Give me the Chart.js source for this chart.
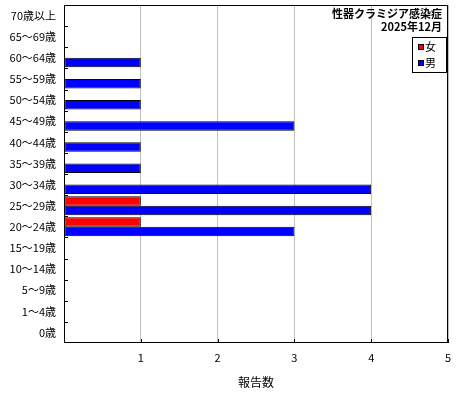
<!DOCTYPE html>
<html>
<head>
<meta charset="utf-8">
<script src="https://cdn.jsdelivr.net/npm/chart.js@4"></script>
<style>
  html, body { margin: 0; padding: 0; background: #fff; }
  #wrap { width: 460px; height: 400px; }
</style>
</head>
<body>
<div id="wrap"><canvas id="chart" width="460" height="400"></canvas></div>
<script>
// age groups, top to bottom
const ageGroups = ['70歳以上', '65～69歳', '60～64歳', '55～59歳', '50～54歳', '45～49歳',
    '40～44歳', '35～39歳', '30～34歳', '25～29歳', '20～24歳', '15～19歳',
    '10～14歳', '5～9歳', '1～4歳', '0歳'];
const female = [0, 0, 0, 0, 0, 0, 0, 0, 0, 1, 1, 0, 0, 0, 0, 0];
const male   = [0, 0, 1, 1, 1, 3, 1, 1, 4, 4, 3, 0, 0, 0, 0, 0];
const xTicks = [1, 2, 3, 4, 5];
const titleLines = ['性器クラミジア感染症', '2025年12月'];
const xTitle = '報告数';

const FONT = '"Noto Sans CJK JP", "DejaVu Sans", sans-serif';

// frame, inside ticks, title and legend box
const decorations = {
    id: 'decorations',
    afterDraw(chart) {
        const ctx = chart.ctx;
        const a = chart.chartArea;
        const x = chart.scales.x;
        ctx.save();
        ctx.strokeStyle = '#000';
        ctx.lineWidth = 1;
        ctx.strokeRect(a.left + 0.5, a.top + 0.5, a.right - a.left - 1, a.bottom - a.top - 1);

        // small ticks on the left edge, at category boundaries
        const band = (a.bottom - a.top) / ageGroups.length;
        ctx.beginPath();
        for (let i = 1; i < ageGroups.length; i++) {
            const py = Math.round(a.top + band * i) + 0.5;
            ctx.moveTo(a.left, py);
            ctx.lineTo(a.left + 4, py);
        }
        xTicks.forEach(v => {
            const px = Math.round(x.getPixelForValue(v)) + 0.5;
            ctx.moveTo(px, a.bottom);
            ctx.lineTo(px, a.bottom - 4);
        });
        ctx.stroke();

        // title
        ctx.fillStyle = '#000';
        ctx.font = 'bold 11px ' + FONT;
        ctx.textAlign = 'right';
        ctx.textBaseline = 'middle';
        ctx.fillText(titleLines[0], a.right - 6, 14);
        ctx.fillText(titleLines[1], a.right - 6, 27);

        // legend
        const lx = 412, ly = 37, lw = 34, lh = 35;
        ctx.fillStyle = '#fff';
        ctx.fillRect(lx, ly, lw, lh);
        ctx.strokeRect(lx + 0.5, ly + 0.5, lw, lh);
        ctx.font = '11px ' + FONT;
        ctx.textAlign = 'left';
        chart.data.datasets.forEach((ds, i) => {
            const cy = ly + 10 + i * 16;
            ctx.fillStyle = ds.backgroundColor;
            ctx.fillRect(lx + 6, cy - 3, 6, 6);
            ctx.strokeStyle = '#000';
            ctx.strokeRect(lx + 6.5, cy - 2.5, 5, 5);
            ctx.fillStyle = '#000';
            ctx.fillText(ds.label, lx + 13, cy);
        });
        ctx.restore();
    }
};

new Chart(document.getElementById('chart'), {
    type: 'bar',
    data: {
        labels: ageGroups,
        datasets: [
            {
                label: '女',
                data: female,
                backgroundColor: '#ff0000',
                borderColor: '#000',
                borderWidth: 1,
                borderSkipped: false
            },
            {
                label: '男',
                data: male,
                backgroundColor: '#0000ff',
                borderColor: '#000',
                borderWidth: 1,
                borderSkipped: false
            }
        ]
    },
    options: {
        indexAxis: 'y',
        responsive: false,
        animation: false,
        layout: { padding: { top: 5, right: 12, left: 0, bottom: 6 } },
        datasets: {
            bar: { categoryPercentage: 0.9, barPercentage: 1 }
        },
        plugins: {
            legend: { display: false },
            tooltip: { enabled: false }
        },
        scales: {
            x: {
                min: 0,
                max: 5,
                grid: { color: '#c0c0c0', drawTicks: false },
                border: { display: false },
                ticks: {
                    stepSize: 1,
                    color: '#000',
                    padding: 8,
                    font: { family: FONT, size: 11 },
                    callback: v => (xTicks.includes(v) ? String(v) : '')
                },
                title: {
                    display: true,
                    text: xTitle,
                    color: '#000',
                    font: { family: FONT, size: 12 },
                    padding: { top: 6 }
                },
                afterFit: s => { s.height = 51; s.paddingRight = 0; s.paddingLeft = 0; }
            },
            y: {
                grid: { display: false, drawTicks: false },
                border: { display: false },
                ticks: {
                    color: '#000',
                    padding: 8,
                    font: { family: FONT, size: 11 }
                },
                afterFit: s => { s.width = 64; s.paddingTop = 0; s.paddingBottom = 0; }
            }
        }
    },
    plugins: [decorations]
});
</script>
</body>
</html>
